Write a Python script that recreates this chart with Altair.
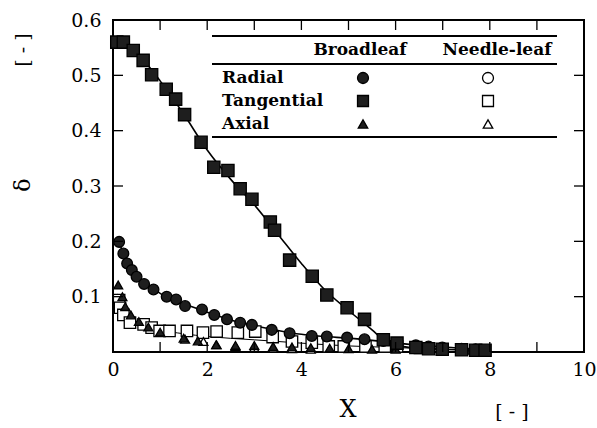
import altair as alt
import pandas as pd

# ---------------- data ----------------
tan_b_x = [0.08, 0.22, 0.43, 0.64, 0.82, 1.13, 1.33, 1.52, 1.87, 2.14, 2.44, 2.70, 2.95, 3.34, 3.43, 3.75,
           4.23, 4.54, 4.97, 5.34, 5.74, 6.03, 6.43, 6.70, 6.99, 7.40, 7.70, 7.90]
tan_b_y = [0.560, 0.560, 0.545, 0.527, 0.501, 0.475, 0.457, 0.429, 0.379, 0.334, 0.328, 0.295, 0.276, 0.235,
           0.220, 0.166, 0.137, 0.103, 0.080, 0.059, 0.022, 0.016, 0.008, 0.006, 0.005, 0.004, 0.003, 0.003]

rad_b_x = [0.13, 0.22, 0.30, 0.40, 0.50, 0.66, 0.86, 1.14, 1.34, 1.53, 1.89, 2.15, 2.42, 2.70, 2.95, 3.37,
           3.75, 4.22, 4.54, 4.97, 5.34, 5.74, 6.03, 6.43, 6.70, 6.99, 7.40, 7.70]
rad_b_y = [0.199, 0.178, 0.160, 0.148, 0.136, 0.123, 0.113, 0.100, 0.095, 0.083, 0.077, 0.067, 0.059, 0.053,
           0.049, 0.040, 0.034, 0.029, 0.028, 0.026, 0.023, 0.020, 0.016, 0.012, 0.010, 0.008, 0.006, 0.005]

ax_b_x = [0.11, 0.20, 0.26, 0.38, 0.55, 0.75, 1.00, 1.50, 1.80, 2.19, 2.60, 3.00, 3.40, 3.80, 4.20, 4.60,
          5.00, 5.50, 6.00, 6.50, 7.00, 7.50]
ax_b_y = [0.121, 0.100, 0.082, 0.067, 0.055, 0.045, 0.036, 0.025, 0.020, 0.013, 0.012, 0.012, 0.010, 0.009,
          0.008, 0.007, 0.006, 0.005, 0.005, 0.004, 0.004, 0.003]

tan_n_x = [0.13, 0.15, 0.22, 0.36, 0.65, 0.82, 0.99, 1.20, 1.57, 1.91, 2.20, 2.65, 3.02, 3.39, 3.80, 4.22,
           4.58, 4.90, 5.36, 5.77, 6.03]
tan_n_y = [0.094, 0.080, 0.067, 0.053, 0.050, 0.044, 0.038, 0.038, 0.038, 0.035, 0.037, 0.035, 0.037, 0.027,
           0.019, 0.017, 0.010, 0.010, 0.010, 0.010, 0.010]

ax_n_x = [1.53, 1.92, 2.20, 2.60, 3.00, 3.40, 3.80, 4.20]
ax_n_y = [0.023, 0.019, 0.013, 0.010, 0.008, 0.007, 0.006, 0.005]

# fitted curves
fit_tan_x = [0.05, 0.3, 0.5, 1.0, 1.5, 2.0, 2.5, 3.0, 3.5, 4.0, 4.5, 5.0, 5.5, 5.8, 6.0, 6.5, 7.0, 8.0]
fit_tan_y = [0.565, 0.558, 0.542, 0.490, 0.430, 0.365, 0.312, 0.266, 0.213, 0.160, 0.112, 0.075, 0.040,
             0.018, 0.012, 0.007, 0.005, 0.003]
fit_rad_x = [0.1, 0.3, 0.5, 1.0, 1.5, 2.0, 2.5, 3.0, 3.5, 4.0, 4.5, 5.0, 5.5, 6.0, 7.0, 8.0]
fit_rad_y = [0.205, 0.163, 0.140, 0.106, 0.087, 0.072, 0.058, 0.048, 0.039, 0.032, 0.028, 0.025, 0.021,
             0.016, 0.009, 0.004]
fit_low_x = [0.1, 0.3, 0.5, 1.0, 1.5, 2.0, 3.0, 4.0, 5.0, 6.0, 7.0, 8.0]
fit_low_y = [0.105, 0.070, 0.055, 0.040, 0.033, 0.028, 0.022, 0.016, 0.011, 0.008, 0.005, 0.003]

x_ticks = [1, 2, 3, 4, 5, 6, 7, 8, 9]
y_ticks = [0.1, 0.2, 0.3, 0.4, 0.5]

legend_rows = ["Radial", "Tangential", "Axial"]
legend_shapes = ["circle", "square", "triangle-up"]
legend_cols = ["Broadleaf", "Needle-leaf"]

# ---------------- chart ----------------
W, H = 471, 332
FONT = "DejaVu Serif"

xs = alt.Scale(domain=[0, 10], nice=False)
ys = alt.Scale(domain=[0, 0.6], nice=False)

x_axis = alt.Axis(values=[0, 2, 4, 6, 8, 10], title=None, domain=False, ticks=False, grid=False,
                  labelFont=FONT, labelFontSize=19, labelColor="black", labelPadding=8, format="d",
                  labelFlush=False)
y_axis = alt.Axis(values=[0.1, 0.2, 0.3, 0.4, 0.5, 0.6], title=None, domain=False, ticks=False, grid=False,
                  labelFont=FONT, labelFontSize=19, labelColor="black", labelPadding=12, format=".1f",
                  labelFlush=False)


def pts(xv, yv):
    return pd.DataFrame({"x": xv, "y": yv})


def line(xv, yv, w=1.6):
    return alt.Chart(pts(xv, yv)).mark_line(color="black", strokeWidth=w, interpolate="monotone").encode(
        x=alt.X("x:Q", scale=xs, axis=x_axis), y=alt.Y("y:Q", scale=ys, axis=y_axis))


def marks(xv, yv, shape, filled, size):
    return alt.Chart(pts(xv, yv)).mark_point(
        shape=shape, filled=True, size=size,
        fill="#1e1e1e" if filled else "white", stroke="black", strokeWidth=1.3, opacity=1
    ).encode(x=alt.X("x:Q", scale=xs, axis=x_axis), y=alt.Y("y:Q", scale=ys, axis=y_axis))


layers = [
    line(fit_low_x, fit_low_y, 1.0),
    line(fit_rad_x, fit_rad_y),
    line(fit_tan_x, fit_tan_y),
    marks(tan_n_x, tan_n_y, "square", False, 130),
    marks(ax_n_x, ax_n_y, "triangle-up", False, 80),
    marks(ax_b_x, ax_b_y, "triangle-up", True, 80),
    marks(rad_b_x, rad_b_y, "circle", True, 115),
    marks(tan_b_x, tan_b_y, "square", True, 150),
]

# inward ticks
tx = pd.DataFrame({"x": x_ticks})
ty = pd.DataFrame({"y": y_ticks})
layers += [
    alt.Chart(tx).mark_rule(color="black", strokeWidth=1.3).encode(
        x=alt.X("x:Q", scale=xs, axis=x_axis), y=alt.value(H), y2=alt.value(H - 10)),
    alt.Chart(tx).mark_rule(color="black", strokeWidth=1.3).encode(
        x=alt.X("x:Q", scale=xs, axis=x_axis), y=alt.value(0), y2=alt.value(10)),
    alt.Chart(ty).mark_rule(color="black", strokeWidth=1.3).encode(
        y=alt.Y("y:Q", scale=ys, axis=y_axis), x=alt.value(0), x2=alt.value(10)),
    alt.Chart(ty).mark_rule(color="black", strokeWidth=1.3).encode(
        y=alt.Y("y:Q", scale=ys, axis=y_axis), x=alt.value(W), x2=alt.value(W - 10)),
]

# legend table
for yy in [16, 44, 117]:
    layers.append(alt.Chart(pd.DataFrame({"a": [0]})).mark_rule(color="black", strokeWidth=1.8).encode(
        x=alt.value(99), x2=alt.value(444), y=alt.value(yy)))

hdr = pd.DataFrame({"t": legend_cols, "px": [247, 384]})
layers.append(alt.Chart(hdr).mark_text(font=FONT, fontSize=17, fontWeight="bold", align="center",
                                       baseline="middle", color="black").encode(
    text="t:N", x=alt.X("px:Q", scale=None), y=alt.value(30)))

rows = pd.DataFrame({"t": legend_rows, "py": [58, 81, 104]})
layers.append(alt.Chart(rows).mark_text(font=FONT, fontSize=17, fontWeight="bold", align="left",
                                        baseline="middle", color="black").encode(
    text="t:N", x=alt.value(109), y=alt.Y("py:Q", scale=None)))

for i, shp in enumerate(legend_shapes):
    for j, filled in enumerate([True, False]):
        layers.append(alt.Chart(pd.DataFrame({"a": [0]})).mark_point(
            shape=shp, filled=True, size=120 if shp != "triangle-up" else 90,
            fill="#1e1e1e" if filled else "white", stroke="black", strokeWidth=1.3, opacity=1
        ).encode(x=alt.value([250, 375][j]), y=alt.value([58, 81, 104][i])))

# axis titles
def txt(t, x, y, size, angle=0):
    kw = dict(font=FONT, fontSize=size, align="center", baseline="middle", color="black")
    if angle:
        kw["angle"] = angle
    return alt.Chart(pd.DataFrame({"t": [t]})).mark_text(**kw).encode(
        text="t:N", x=alt.value(x), y=alt.value(y))

layers += [
    txt("δ", -90, 165, 22, 270),
    txt("[ - ]", -90, 30, 19, 270),
    txt("X", 235, 390, 24),
    txt("[ - ]", 399, 392, 19),
]

chart = alt.layer(*layers).properties(
    width=W, height=H,
    padding={"left": 113, "top": 20, "right": 13, "bottom": 76},
    autosize=alt.AutoSizeParams(type="none"),
    background="white",
).configure_view(stroke="black", strokeWidth=2)

chart.save("out.html", embed_options={"renderer": "svg", "actions": False})
